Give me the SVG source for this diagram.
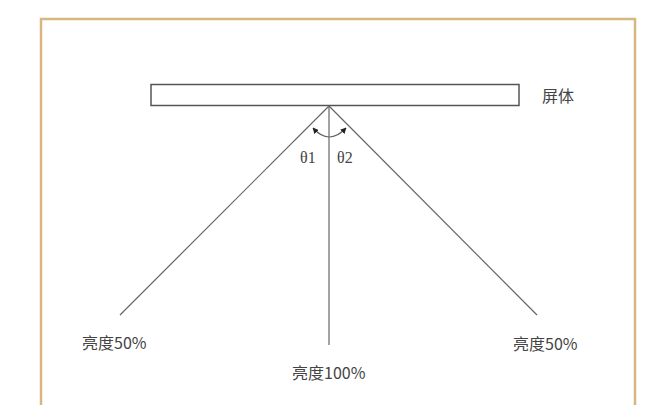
<svg xmlns="http://www.w3.org/2000/svg" width="659" height="405" viewBox="0 0 659 405">
<style>
.ln{stroke:#666;stroke-width:1.2;fill:none}
.lbl{font-family:"Noto Sans CJK SC","Liberation Sans",sans-serif;font-size:16px;fill:#444}
.th{font-family:"Liberation Serif",serif;font-size:16px;fill:#444}
</style>
<defs>
<marker id="ah" viewBox="0 0 10 10" refX="9" refY="5" markerWidth="5" markerHeight="5" orient="auto-start-reverse">
<path d="M0,0 L10,5 L0,10 z" fill="#222"/>
</marker>
</defs>
<rect width="659" height="405" fill="#fff"/>
<rect id="frame" x="41" y="19" width="594" height="400" fill="none" stroke="#d8b681" stroke-width="2.5"/>
<g id="screen">
<rect x="151" y="84.5" width="368" height="21" fill="#fff" stroke="#555" stroke-width="1.5"/>
<text class="lbl" x="542" y="102">屏体</text>
</g>
<g id="connectors">
<line class="ln" x1="329" y1="106" x2="120" y2="315"/>
<line class="ln" x1="329" y1="106" x2="329" y2="345"/>
<line class="ln" x1="329" y1="106" x2="537" y2="315"/>
<path class="ln" d="M313,128 Q329,146 346,128" stroke="#333" marker-start="url(#ah)" marker-end="url(#ah)"/>
</g>
<g id="angles">
<text class="th" x="300" y="163">θ1</text>
<text class="th" x="337" y="163">θ2</text>
</g>
<g id="left"><text class="lbl" x="82" y="349">亮度50%</text></g>
<g id="center"><text class="lbl" x="292" y="379">亮度100%</text></g>
<g id="right"><text class="lbl" x="513" y="350">亮度50%</text></g>
</svg>
